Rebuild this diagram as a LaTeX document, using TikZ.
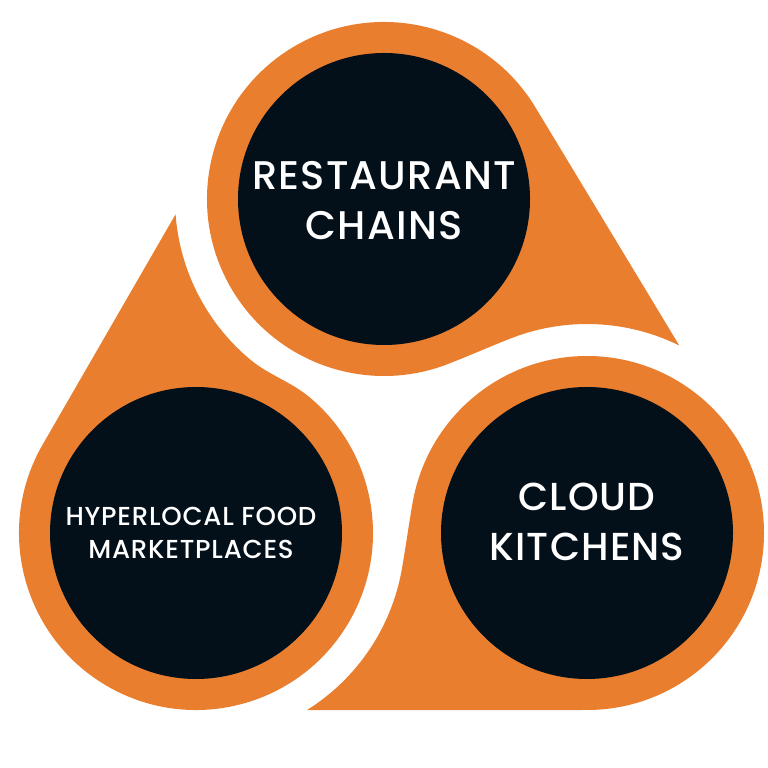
\documentclass[tikz,border=0pt]{standalone}
\usepackage{fontspec}
\setmainfont{Poppins Medium}[LetterSpace=3]
\usetikzlibrary{calc}
\definecolor{flame}{HTML}{E97E2F}
\definecolor{ink}{HTML}{03101A}

\begin{document}
\begin{tikzpicture}[x=1pt,y=1pt,
        tail/.style={fill=flame},
        hub/.style={circle,fill=ink,minimum size=292pt,inner sep=0pt},
        caption/.style={text=white,align=center}]
    \useasboundingbox (0,0) rectangle (768,768);
    \coordinate (C1) at (384,569);
    \coordinate (C2) at (196,235);
    \coordinate (C3) at (587,235);
    \fill[tail] ($(C1)+(31.15:177)$) arc[start angle=31.15,end angle=291.3,radius=177] .. controls +(21.3:22) and +(201.3:22) .. ($(C3)+(111.3:209)$) arc[start angle=111.3,end angle=63.8,radius=209] -- cycle;
    \fill[tail] ($(C2)+(150:177)$) arc[start angle=150,end angle=410.6,radius=177] .. controls +(140.6:22) and +(320.6:22) .. ($(C1)+(230.6:209)$) arc[start angle=230.6,end angle=184.2,radius=209] -- cycle;
    \fill[tail] ($(C3)+(270:177)$) arc[start angle=270,end angle=530,radius=177] .. controls +(260:22) and +(80:22) .. ($(C2)+(350:209)$) arc[start angle=350,end angle=302.1,radius=209] -- cycle;
    \node[hub] (chains) at (C1) {};
    \node[hub] (markets) at (C2) {};
    \node[hub] (kitchens) at (C3) {};
    \node[caption,font=\fontsize{40}{50}\selectfont] (chainstext) at ($(chains)+(0,-2)$) {RESTAURANT\\CHAINS};
    \node[caption,font=\fontsize{26}{33}\selectfont] (marketstext) at ($(markets)+(-5,0)$) {HYPERLOCAL FOOD\\MARKETPLACES};
    \node[caption,font=\fontsize{39}{50}\selectfont] (kitchenstext) at ($(kitchens)+(0,11)$) {CLOUD\\KITCHENS};
\end{tikzpicture}
\end{document}
